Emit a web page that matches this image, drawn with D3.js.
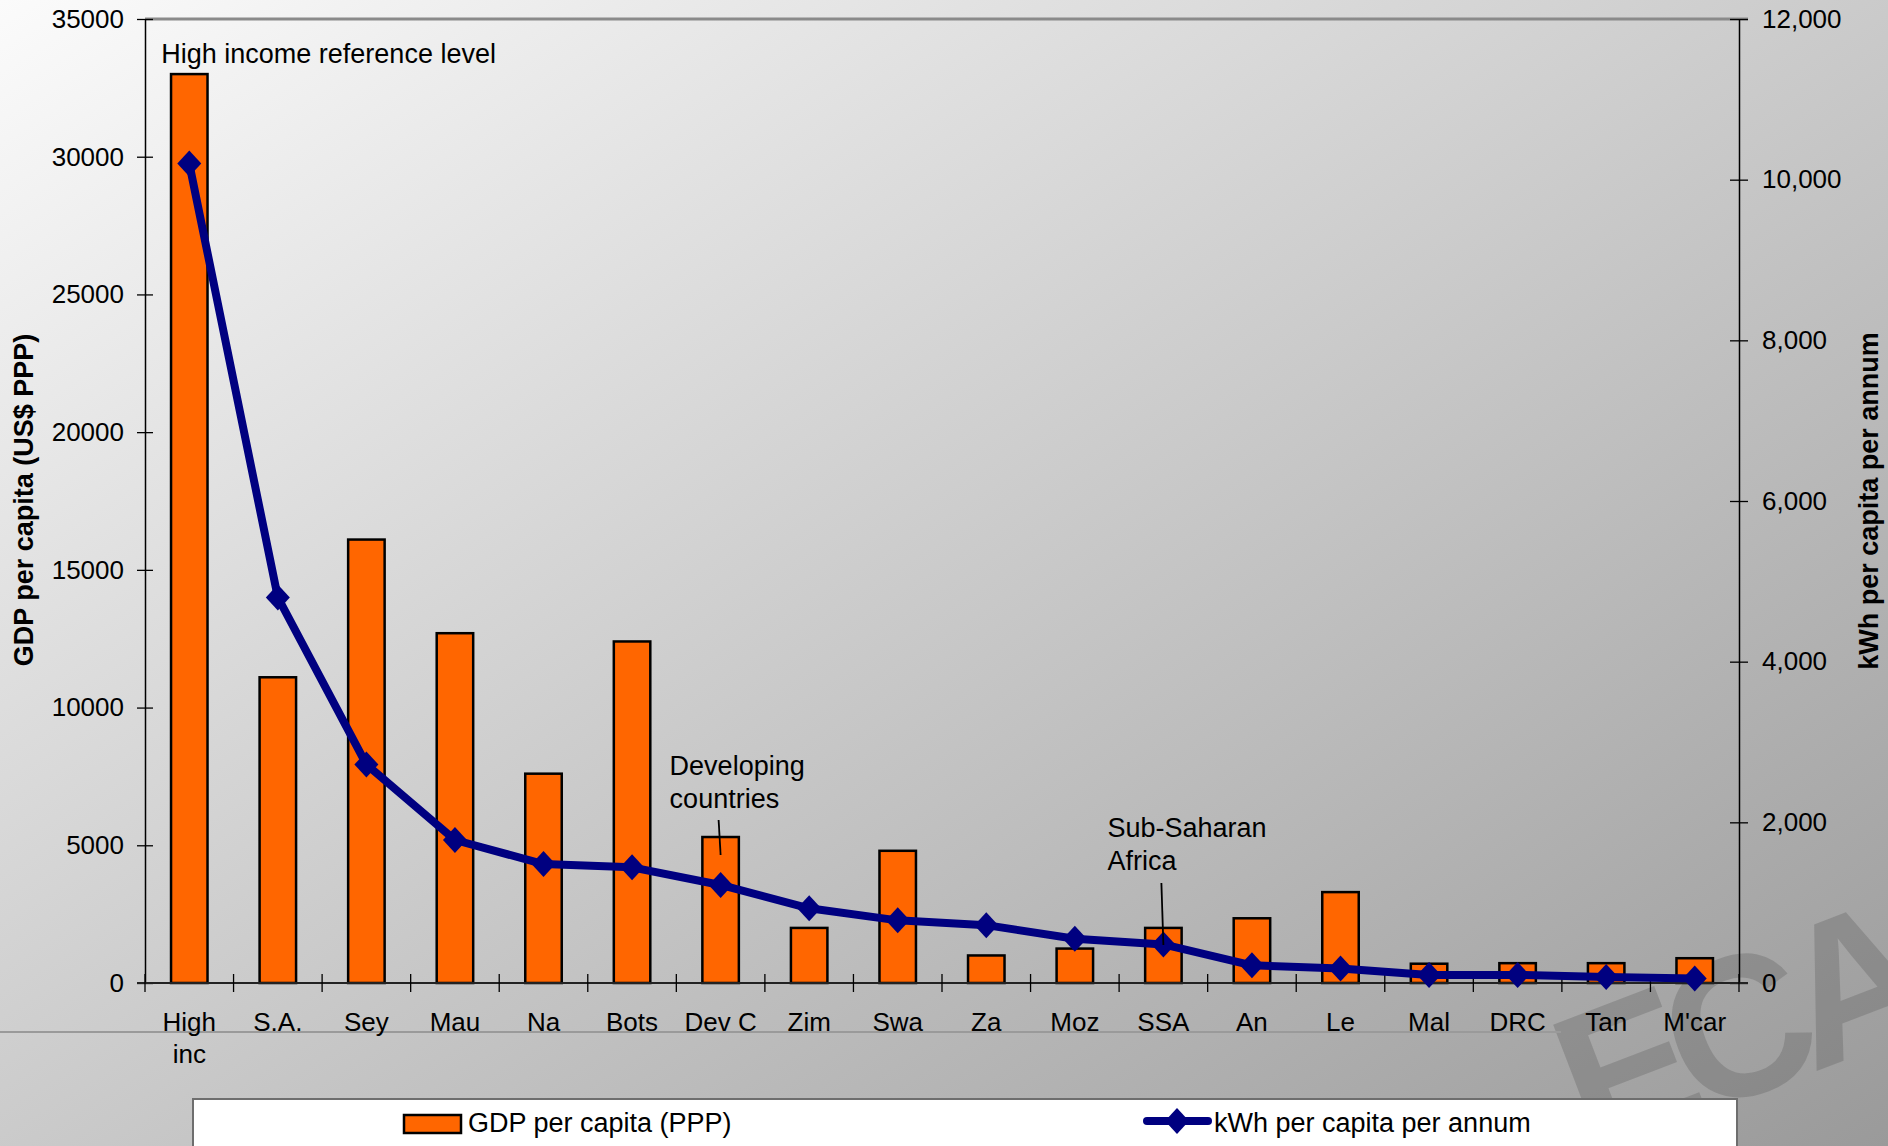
<!DOCTYPE html>
<html>
<head>
<meta charset="utf-8">
<script src="https://cdn.jsdelivr.net/npm/d3@7"></script>
<style>
  html, body { margin: 0; padding: 0; overflow: hidden; background: #fff; }
  svg { display: block; }
  text { font-family: "Liberation Sans", Arial, sans-serif; fill: #000; }
</style>
</head>
<body>
<svg id="chart" width="1888" height="1146"></svg>
<script>
// Countries / groups (a "\n" breaks the axis label onto two lines)
const categories = ["High\ninc", "S.A.", "Sey", "Mau", "Na", "Bots", "Dev C", "Zim", "Swa",
                    "Za", "Moz", "SSA", "An", "Le", "Mal", "DRC", "Tan", "M'car"];
// GDP per capita, US$ PPP (left axis)
const gdpPerCapita = [33000, 11100, 16100, 12700, 7600, 12400, 5300, 2000, 4800,
                      1000, 1250, 2000, 2350, 3300, 700, 720, 720, 900];
// Electricity consumption, kWh per capita per annum (right axis)
const kwhPerCapita = [10200, 4800, 2720, 1780, 1480, 1440, 1220, 930, 780,
                      720, 550, 480, 220, 180, 100, 100, 75, 55];
const leftTicks = [0, 5000, 10000, 15000, 20000, 25000, 30000, 35000];
const rightTicks = [0, 2000, 4000, 6000, 8000, 10000, 12000];
const seriesNames = ["GDP per capita (PPP)", "kWh per capita per annum"];
const leftTitle = "GDP per capita (US$ PPP)";
const rightTitle = "kWh per capita per annum";
const notes = [
  { lines: ["High income reference level"], cat: "High\ninc", dx: -28, y: 63, pointer: null },
  { lines: ["Developing", "countries"], cat: "Dev C", dx: -51, y: 775, pointer: [820, 855] },
  { lines: ["Sub-Saharan", "Africa"], cat: "SSA", dx: -56, y: 837, pointer: [883, 945] }
];

const W = 1888, H = 1146;
const plot = { left: 145, right: 1739, top: 19, bottom: 983 };
const orange = "#FF6600", navy = "#000080";

const svg = d3.select("#chart");
const defs = svg.append("defs");

// Background: soft diagonal grey gradient
const grad = defs.append("linearGradient").attr("id", "bg")
  .attr("x1", 0).attr("y1", 0).attr("x2", 1).attr("y2", 1);
grad.append("stop").attr("offset", 0).attr("stop-color", "#fbfbfb");
grad.append("stop").attr("offset", 1).attr("stop-color", "#9a9a9a");
svg.append("rect").attr("width", W).attr("height", H).attr("fill", "url(#bg)");

// Faint organisation mark in the lower right corner
svg.append("text")
  .attr("transform", "translate(1590,1158) rotate(-21)")
  .attr("font-size", 200).attr("font-weight", "bold")
  .attr("letter-spacing", -20)
  .style("fill", "#5e5e5e").attr("fill-opacity", 0.33)
  .text("ECA");

// Thin separator under the category row
svg.append("line").attr("x1", 0).attr("x2", 1561).attr("y1", 1032).attr("y2", 1032)
  .attr("stroke", "#9a9a9a").attr("stroke-width", 2);

// Scales
const x = d3.scaleBand().domain(categories)
  .range([plot.left, plot.right]).paddingInner(0.588).paddingOuter(0.294);
const yL = d3.scaleLinear().domain([0, 35000]).range([plot.bottom, plot.top]);
const yR = d3.scaleLinear().domain([0, 12000]).range([plot.bottom, plot.top]);
const cx = c => x(c) + x.bandwidth() / 2;

// Plot area top border
svg.append("line").attr("x1", plot.left).attr("x2", plot.right + 9)
  .attr("y1", plot.top).attr("y2", plot.top)
  .attr("stroke", "#8a8a8a").attr("stroke-width", 3);

// Bars (GDP)
svg.append("g").selectAll("rect").data(categories).join("rect")
  .attr("x", c => x(c))
  .attr("y", (c, i) => yL(gdpPerCapita[i]))
  .attr("width", x.bandwidth())
  .attr("height", (c, i) => yL(0) - yL(gdpPerCapita[i]))
  .attr("fill", orange).attr("stroke", "#000").attr("stroke-width", 2.5);

// Left axis
const axL = svg.append("g").attr("transform", `translate(${plot.left},0)`)
  .call(d3.axisLeft(yL).tickValues(leftTicks).tickFormat(d3.format("d"))
    .tickSizeInner(8).tickSizeOuter(0).tickPadding(13));
axL.select(".domain").attr("stroke", "#000").attr("stroke-width", 1.5);
axL.selectAll(".tick line").attr("x1", 8).attr("x2", -8).attr("stroke", "#000").attr("stroke-width", 1.3);
axL.selectAll(".tick text").attr("font-size", 26).style("font-family", '"Liberation Sans", Arial, sans-serif');

// Right axis
const axR = svg.append("g").attr("transform", `translate(${plot.right},0)`)
  .call(d3.axisRight(yR).tickValues(rightTicks).tickFormat(d3.format(","))
    .tickSizeInner(9).tickSizeOuter(0).tickPadding(14));
axR.select(".domain").attr("stroke", "#000").attr("stroke-width", 1.5);
axR.selectAll(".tick line").attr("x1", 9).attr("x2", -9).attr("stroke", "#000").attr("stroke-width", 1.3);
axR.selectAll(".tick text").attr("font-size", 26).style("font-family", '"Liberation Sans", Arial, sans-serif');

// Category axis (ticks at band boundaries, crossing the baseline)
const axX = svg.append("g");
axX.append("line").attr("x1", plot.left - 8).attr("x2", plot.right + 9)
  .attr("y1", plot.bottom).attr("y2", plot.bottom)
  .attr("stroke", "#222").attr("stroke-width", 2);
axX.selectAll("line.tk").data(d3.range(categories.length + 1)).join("line")
  .attr("class", "tk")
  .attr("x1", i => plot.left + i * x.step()).attr("x2", i => plot.left + i * x.step())
  .attr("y1", plot.bottom - 9).attr("y2", plot.bottom + 9)
  .attr("stroke", "#000").attr("stroke-width", 1.3);
axX.selectAll("text").data(categories).join("text")
  .attr("x", c => cx(c)).attr("y", 1031)
  .attr("text-anchor", "middle").attr("font-size", 26)
  .each(function (c) {
    const t = d3.select(this);
    c.split("\n").forEach((s, k) => {
      t.append("tspan").attr("x", cx(c)).attr("dy", k === 0 ? 0 : 32).text(s);
    });
  });

// Axis titles
svg.append("text").attr("transform", "translate(33,500) rotate(-90)")
  .attr("text-anchor", "middle").attr("font-size", 27).attr("font-weight", "bold")
  .text(leftTitle);
svg.append("text").attr("transform", "translate(1878,501) rotate(-90)")
  .attr("text-anchor", "middle").attr("font-size", 27).attr("font-weight", "bold")
  .text(rightTitle);

// kWh line with diamond markers
const line = d3.line().x((v, i) => cx(categories[i])).y(v => yR(v));
svg.append("path").datum(kwhPerCapita).attr("d", line)
  .attr("fill", "none").attr("stroke", navy).attr("stroke-width", 8)
  .attr("stroke-linejoin", "round");
const diamond = "M0,-13L12,0L0,13L-12,0Z";
svg.append("g").selectAll("path").data(kwhPerCapita).join("path")
  .attr("transform", (v, i) => `translate(${cx(categories[i])},${yR(v)})`)
  .attr("d", diamond).attr("fill", navy);

// Annotations
notes.forEach(n => {
  const t = svg.append("text").attr("font-size", 27);
  n.lines.forEach((s, k) => {
    t.append("tspan").attr("x", cx(n.cat) + n.dx).attr("y", n.y + k * 33).text(s);
  });
  if (n.pointer) {
    svg.append("line")
      .attr("x1", cx(n.cat) - 2).attr("x2", cx(n.cat))
      .attr("y1", n.pointer[0]).attr("y2", n.pointer[1])
      .attr("stroke", "#000").attr("stroke-width", 1.8);
  }
});

// Legend
const lg = svg.append("g");
lg.append("rect").attr("x", 193).attr("y", 1099).attr("width", 1544).attr("height", 70)
  .attr("fill", "#fff").attr("stroke", "#6e6e6e").attr("stroke-width", 2);
lg.append("rect").attr("x", 404).attr("y", 1115).attr("width", 57).attr("height", 18)
  .attr("fill", orange).attr("stroke", "#000").attr("stroke-width", 2.5);
lg.append("text").attr("x", 468).attr("y", 1132).attr("font-size", 27).text(seriesNames[0]);
lg.append("line").attr("x1", 1147).attr("x2", 1208).attr("y1", 1121).attr("y2", 1121)
  .attr("stroke", navy).attr("stroke-width", 8).attr("stroke-linecap", "round");
lg.append("path").attr("transform", "translate(1177,1121)").attr("d", diamond).attr("fill", navy);
lg.append("text").attr("x", 1214).attr("y", 1132).attr("font-size", 27).text(seriesNames[1]);
</script>
</body>
</html>
